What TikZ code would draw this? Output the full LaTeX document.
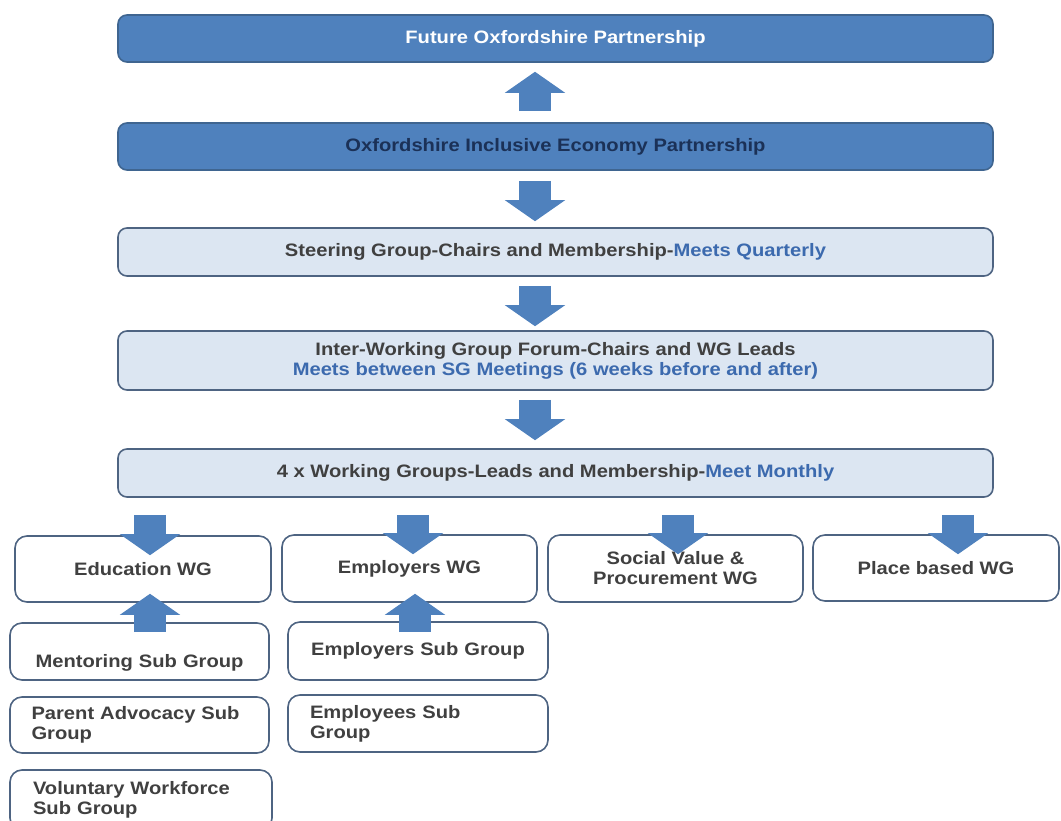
\documentclass[tikz,border=0pt]{standalone}
\usepackage{fontspec}
\setmainfont[FakeStretch=1.12]{Liberation Sans}
\usepackage{xcolor}
\usepackage{tikz}
\usetikzlibrary{arrows.meta,positioning,calc}

\definecolor{darkfill}{HTML}{4F81BD}
\definecolor{darkedge}{HTML}{3F6590}
\definecolor{lightfill}{HTML}{DCE6F2}
\definecolor{lightedge}{HTML}{4E6482}
\definecolor{greytext}{HTML}{404040}
\definecolor{bluetext}{HTML}{3C6AAE}
\definecolor{navytext}{HTML}{1B3157}
\newcommand{\boxfont}{\fontsize{18}{20}\selectfont\bfseries}

\begin{document}
\begin{tikzpicture}[x=1pt, y=-1pt,
    topbox/.style={draw=darkedge, fill=darkfill, rounded corners=9pt, line width=1.6pt,
      minimum width=875pt, minimum height=47pt, font=\boxfont},
    midbox/.style={draw=lightedge, fill=lightfill, rounded corners=9pt, line width=1.6pt,
      minimum width=875pt, minimum height=48pt, font=\boxfont, text=greytext, align=center},
    wgbox/.style={draw=lightedge, fill=white, rounded corners=12pt, line width=1.6pt,
      minimum width=255pt, minimum height=66pt, font=\boxfont, text=greytext, align=center},
    subbox/.style={draw=lightedge, fill=white, rounded corners=12pt, line width=1.6pt,
      minimum width=259pt, minimum height=57pt, text width=216pt, font=\boxfont,
      text=greytext, align=left},
    blockarrow/.style={draw=darkfill, line width=32pt,
      -{Triangle[width=60pt, length=21pt, line width=1.2pt]}}]
        \useasboundingbox (0,0) rectangle (1061,821);

        % Nodes
        \node[topbox, text=white] (fop) at (555.5,38.5) {Future Oxfordshire Partnership};
        \node[topbox, text=navytext] (iep) at (555.5,146.5) {Oxfordshire Inclusive Economy Partnership};
        \node[midbox] (sg) at (555.5,252) {Steering Group-Chairs and Membership-\textcolor{bluetext}{Meets Quarterly}};
        \node[midbox, minimum height=59pt] (iwg) at (555.5,360.5) {Inter-Working Group Forum-Chairs and WG Leads\\
          \textcolor{bluetext}{Meets between SG Meetings (6 weeks before and after)}};
        \node[midbox] (wgs) at (555.5,473) {4 x Working Groups-Leads and Membership-\textcolor{bluetext}{Meet Monthly}};

        \node[wgbox, minimum width=256pt] (edu) at (143,569) {Education WG};
        \node[wgbox, minimum height=67pt] (emp) at (409.5,568.5) {Employers WG};
        \node[wgbox, minimum height=67pt] (svp) at (675.5,568.5) {Social Value \&\\Procurement WG};
        \node[wgbox, minimum width=246pt] (pbw) at (936,568) {Place based WG};

        \node[subbox, text height=35pt, align=center] (ment) at (139.5,651.5) {Mentoring Sub Group};
        \node[subbox, minimum height=56pt] (pad) at (139.5,725) {Parent Advocacy Sub\\Group};
        \node[subbox, minimum width=262pt, minimum height=60pt] (vol) at (141,800) {Voluntary Workforce\\Sub Group};
        \node[subbox, minimum width=260pt, minimum height=58pt, align=center] (esg) at (418,651) {Employers Sub Group};
        \node[subbox, minimum width=260pt] (ees) at (418,723.5) {Employees Sub\\Group};

        % Edges
        \draw[blockarrow] ($(iep.north)+(-20.5,-11)$) -- ($(fop.south)+(-20.5,9)$);
        \draw[blockarrow] ($(iep.south)+(-20.5,10)$) -- ($(sg.north)+(-20.5,-6)$);
        \draw[blockarrow] ($(sg.south)+(-20.5,9)$) -- ($(iwg.north)+(-20.5,-4)$);
        \draw[blockarrow] ($(iwg.south)+(-20.5,9)$) -- ($(wgs.north)+(-20.5,-8)$);

        \draw[blockarrow] ($(wgs.south -| edu.north)+(7,17)$) -- ($(edu.north)+(7,20)$);
        \draw[blockarrow] ($(wgs.south -| emp.north)+(3.5,17)$) -- ($(emp.north)+(3.5,20)$);
        \draw[blockarrow] ($(wgs.south -| svp.north)+(2.5,17)$) -- ($(svp.north)+(2.5,20)$);
        \draw[blockarrow] ($(wgs.south -| pbw.north)+(22,17)$) -- ($(pbw.north)+(22,20)$);

        \draw[blockarrow] ($(edu.south |- ment.north)+(7,10)$) -- ($(edu.south)+(7,-9)$);
        \draw[blockarrow] ($(emp.south |- esg.north)+(5.5,11)$) -- ($(emp.south)+(5.5,-9)$);
    \end{tikzpicture}
\end{document}
